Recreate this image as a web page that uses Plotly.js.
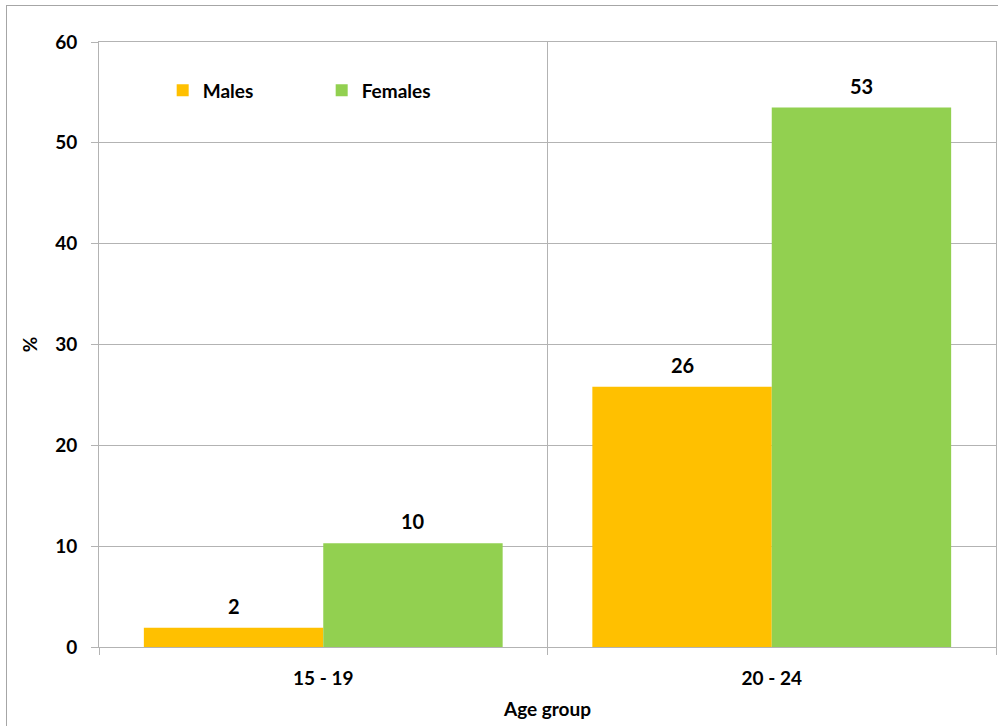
<!DOCTYPE html>
<html>
<head>
<meta charset="utf-8">
<script src="https://cdn.plot.ly/plotly-3.0.1.min.js"></script>
<style>
    html, body { margin: 0; padding: 0; background: #fff; }
    #chart { width: 998px; height: 726px; }
    #frame { position: absolute; left: 6px; top: 5px; width: 1000px; height: 730px; border: 1px solid #a6a6a6; pointer-events: none; }
</style>
</head>
<body>
<div id="chart"></div>
<div id="frame"></div>
<script>
// Chart data
const ageGroups = ['15 - 19', '20 - 24'];
const males = [1.9, 25.8];
const females = [10.3, 53.5];
const malesLabels = ['2', '26'];
const femalesLabels = ['10', '53'];

const yTicks = [0, 10, 20, 30, 40, 50, 60];

const fontFamily = 'Lato, "Open Sans", sans-serif';
const gridColor = '#b3b3b3';

const traces = [
    { x: ageGroups, y: males, name: 'Males', type: 'bar', marker: { color: '#FFC000' }, hoverinfo: 'none' },
    { x: ageGroups, y: females, name: 'Females', type: 'bar', marker: { color: '#92D050' }, hoverinfo: 'none' }
];

// value labels above bars, offset to each bar of the group
const labelFont = { family: fontFamily, size: 20, color: '#000', weight: 'bold' };
const annotations = [];
ageGroups.forEach((g, i) => {
    annotations.push({ x: i - 0.2, y: males[i], text: malesLabels[i], showarrow: false, yanchor: 'bottom', yshift: 8, font: labelFont });
    annotations.push({ x: i + 0.2, y: females[i], text: femalesLabels[i], showarrow: false, yanchor: 'bottom', yshift: 8, font: labelFont });
});

const layout = {
    width: 998, height: 726,
    margin: { l: 99, r: 2, t: 42, b: 79 },
    paper_bgcolor: '#fff', plot_bgcolor: '#fff',
    font: { family: fontFamily, size: 19, color: '#000', weight: 'bold' },
    barmode: 'group', bargap: 0.2, bargroupgap: 0,
    showlegend: true,
    annotations: annotations,
    legend: {
        orientation: 'h', x: 0.071, y: 0.92, xanchor: 'left', yanchor: 'middle',
        bgcolor: 'rgba(0,0,0,0)', font: { size: 19, weight: 'bold' },
        entrywidth: 114, itemwidth: 30
    },
    xaxis: {
        type: 'category', tickson: 'boundaries', ticks: 'outside', ticklen: 7,
        tickcolor: gridColor, showgrid: true, gridcolor: gridColor, gridwidth: 1,
        showline: true, linecolor: gridColor, mirror: true,
        ticklabelstandoff: 14,
        tickfont: { size: 19, weight: 'bold' },
        title: { text: 'Age group', font: { size: 19, weight: 'bold' }, standoff: 14 }
    },
    yaxis: {
        range: [0, 60], tickvals: yTicks, ticks: 'outside', ticklen: 7,
        tickcolor: gridColor, showgrid: true, gridcolor: gridColor, gridwidth: 1,
        zeroline: false, showline: true, linecolor: gridColor, mirror: true,
        ticklabelstandoff: 10,
        tickfont: { size: 19, weight: 'bold' },
        title: { text: '%', font: { size: 19, weight: 'bold' }, standoff: 12 }
    }
};

Plotly.newPlot('chart', traces, layout, { displayModeBar: false, staticPlot: true });
</script>
</body>
</html>
